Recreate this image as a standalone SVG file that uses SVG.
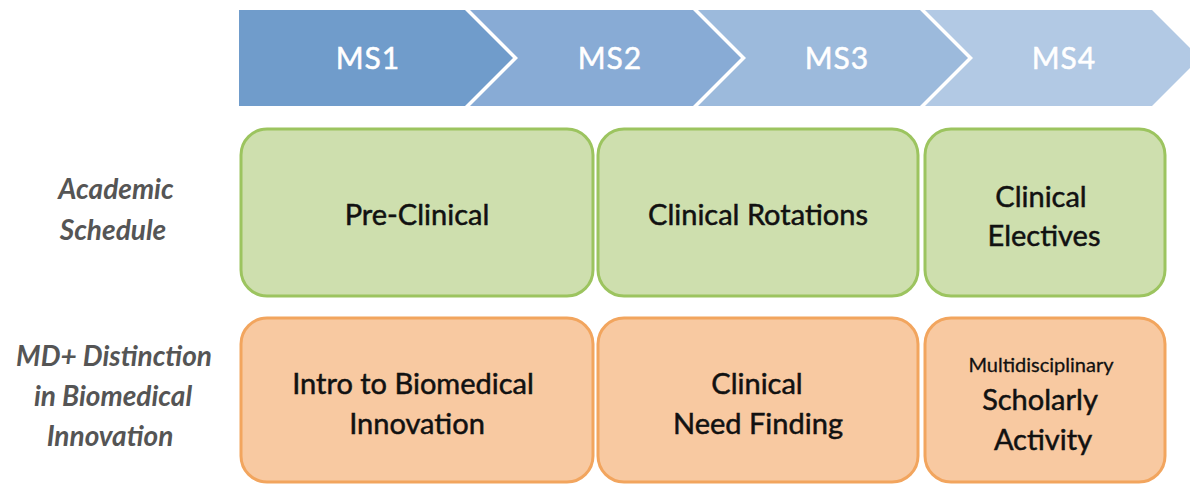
<svg xmlns="http://www.w3.org/2000/svg" width="1190" height="485" viewBox="0 0 1190 485">
  <style>
    .phase { font-family: Lato, "Liberation Sans", sans-serif; font-size: 30px; fill: #ffffff; stroke: #ffffff; stroke-width: 0.5; letter-spacing: 1px; text-anchor: middle; }
    .row { font-family: Lato, "Liberation Sans", sans-serif; font-size: 28px; font-weight: bold; font-style: italic; fill: #555555; text-anchor: middle; }
    .box-text { font-family: Lato, "Liberation Sans", sans-serif; font-size: 29px; fill: #111111; stroke: #111111; stroke-width: 0.5; text-anchor: middle; }
    .small { font-size: 20px; stroke-width: 0.3; }
    .green { fill: #cedfae; stroke: #9cc45f; stroke-width: 3; }
    .orange { fill: #f8c9a1; stroke: #f2a55e; stroke-width: 3; }
  </style>
  <rect width="1190" height="485" fill="#ffffff"/>

  <!-- year chevrons -->
  <g id="ms1">
    <polygon points="239,10 465,10 513,58 465,106 239,106" fill="#709ccb"/>
    <text class="phase" x="368" y="69">MS1</text>
  </g>
  <g id="ms2">
    <polygon points="470,10 693,10 741,58 693,106 470,106 518,58" fill="#88abd5"/>
    <text class="phase" x="610" y="69">MS2</text>
  </g>
  <g id="ms3">
    <polygon points="698,10 920,10 968,58 920,106 698,106 746,58" fill="#9cbadc"/>
    <text class="phase" x="837" y="69">MS3</text>
  </g>
  <g id="ms4">
    <polygon points="925,10 1152,10 1200,58 1152,106 925,106 973,58" fill="#b2c9e4"/>
    <text class="phase" x="1064" y="69">MS4</text>
  </g>

  <!-- row labels -->
  <g id="label-academic">
    <text class="row" x="116" y="199">Academic</text>
    <text class="row" x="113" y="240">Schedule</text>
  </g>
  <g id="label-mdplus">
    <text class="row" x="114" y="366">MD+ Distinction</text>
    <text class="row" x="113" y="406">in Biomedical</text>
    <text class="row" x="110" y="446">Innovation</text>
  </g>

  <!-- academic schedule row -->
  <g id="pre-clinical">
    <rect class="green" x="241" y="129" width="352" height="167" rx="26"/>
    <text class="box-text" x="417" y="225">Pre-Clinical</text>
  </g>
  <g id="clinical-rotations">
    <rect class="green" x="598" y="129" width="320" height="167" rx="26"/>
    <text class="box-text" x="758" y="225">Clinical Rotations</text>
  </g>
  <g id="clinical-electives">
    <rect class="green" x="925" y="129" width="240" height="167" rx="26"/>
    <text class="box-text" x="1041" y="207">Clinical</text>
    <text class="box-text" x="1044" y="246">Electives</text>
  </g>

  <!-- MD+ row -->
  <g id="intro-bmi">
    <rect class="orange" x="241" y="318" width="352" height="164" rx="26"/>
    <text class="box-text" x="413" y="394">Intro to Biomedical</text>
    <text class="box-text" x="417" y="434">Innovation</text>
  </g>
  <g id="need-finding">
    <rect class="orange" x="598" y="318" width="320" height="164" rx="26"/>
    <text class="box-text" x="757" y="394">Clinical</text>
    <text class="box-text" x="758" y="434">Need Finding</text>
  </g>
  <g id="scholarly-activity">
    <rect class="orange" x="925" y="318" width="240" height="164" rx="26"/>
    <text class="box-text small" x="1041" y="372">Multidisciplinary</text>
    <text class="box-text" x="1040" y="410">Scholarly</text>
    <text class="box-text" x="1043" y="450">Activity</text>
  </g>
</svg>
